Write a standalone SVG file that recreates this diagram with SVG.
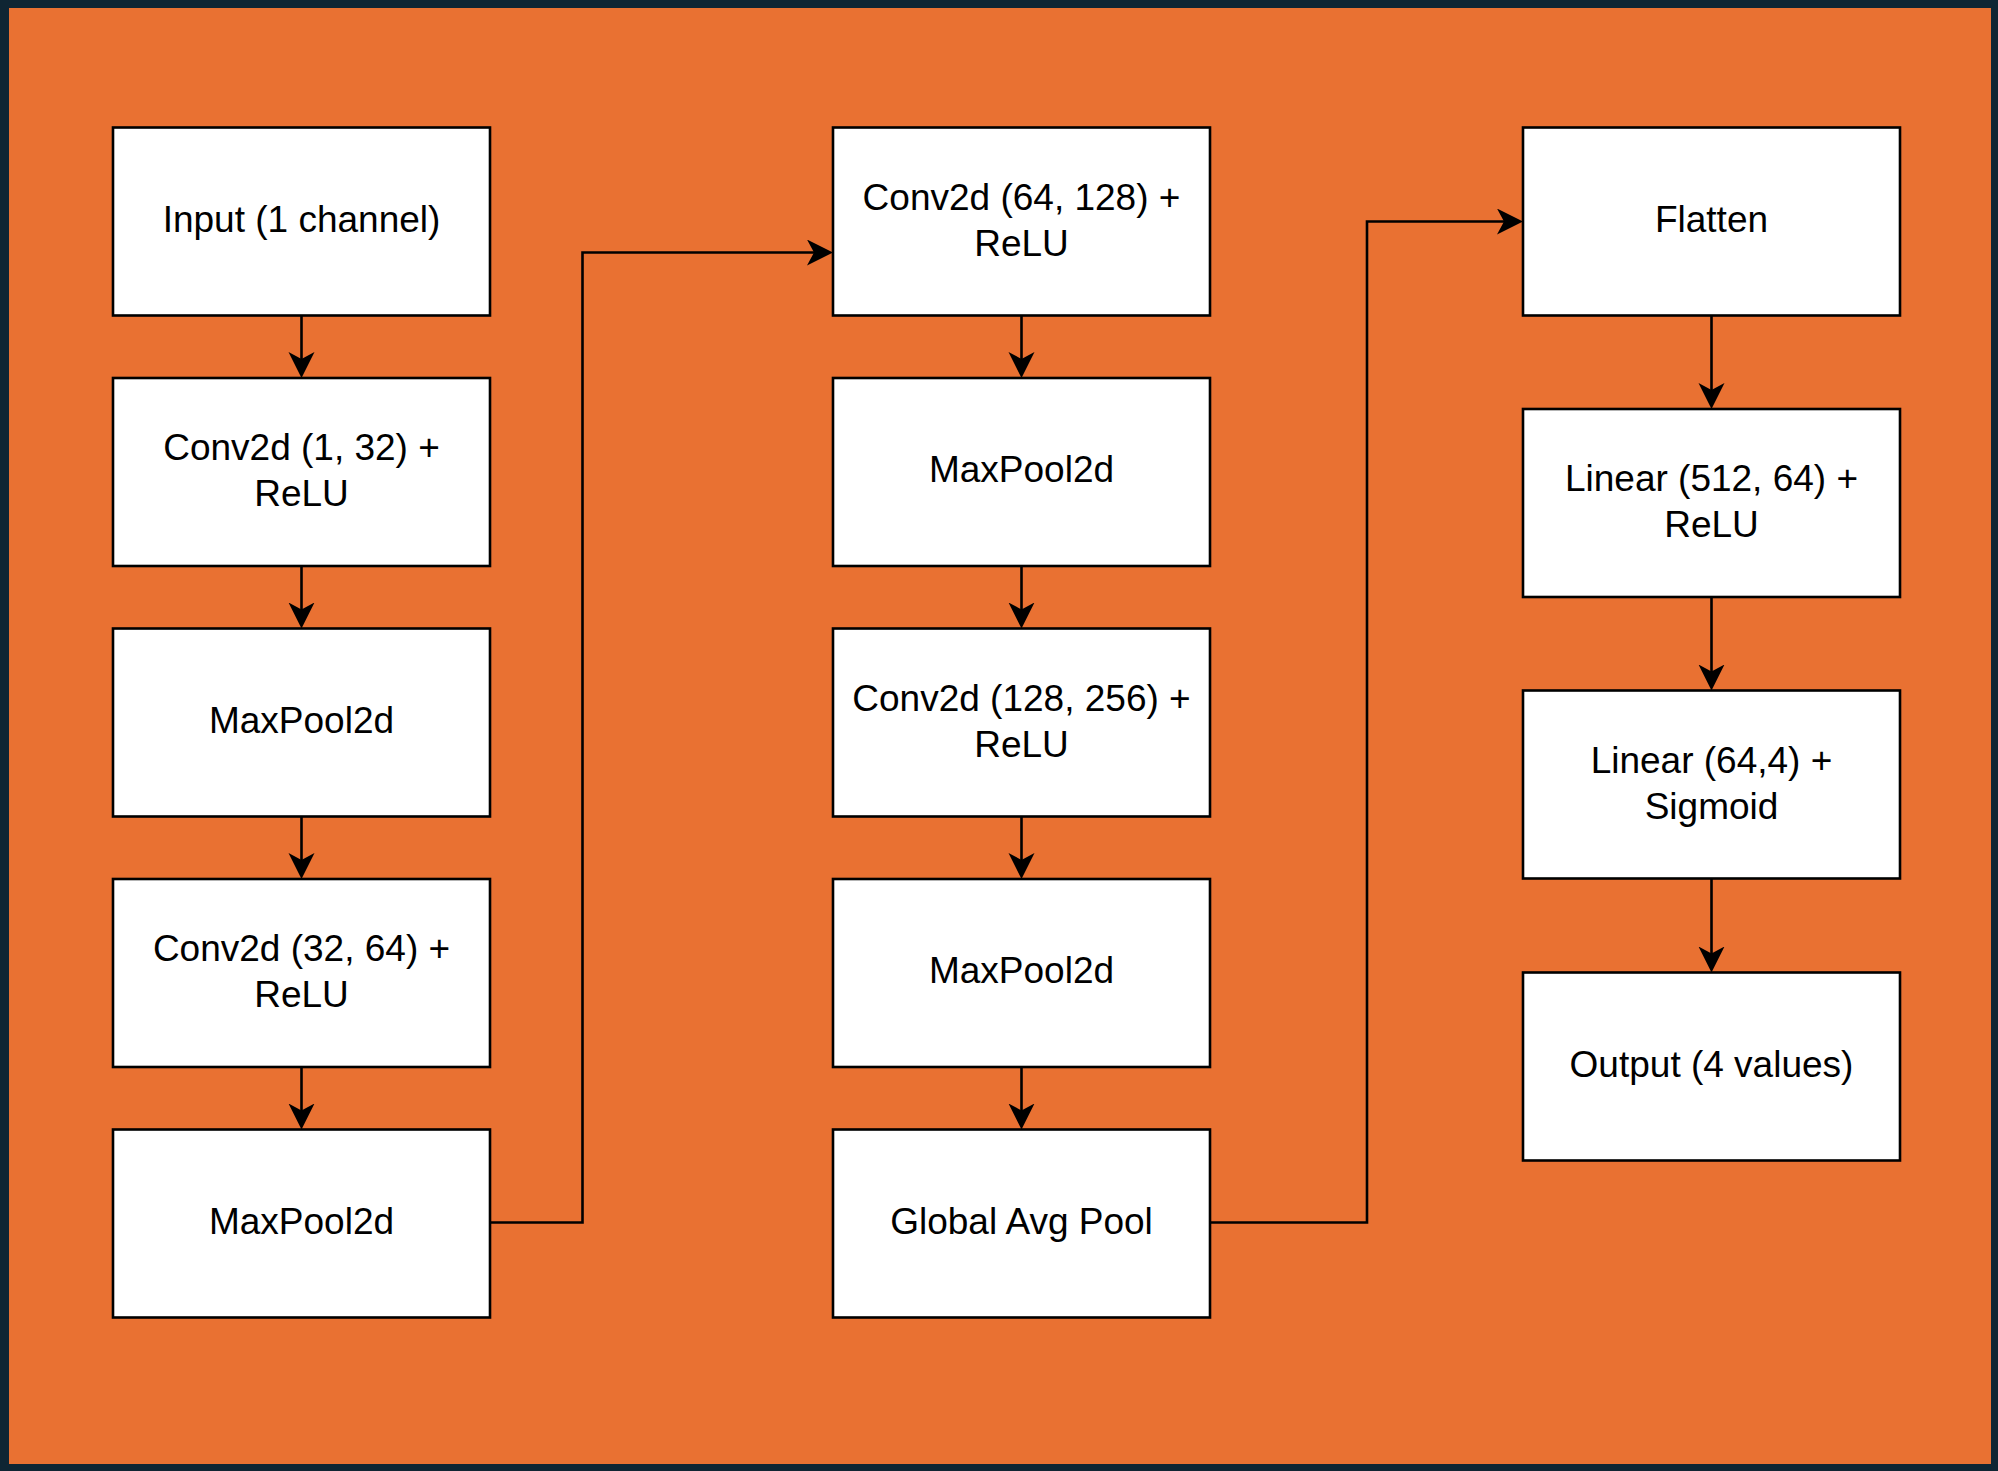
<svg xmlns="http://www.w3.org/2000/svg" width="1998" height="1471" viewBox="0 0 1998 1471">
<style>
.box{fill:#ffffff;stroke:#000000;stroke-width:2.6}
.lbl{font-family:"Liberation Sans",Arial,Helvetica,sans-serif;font-size:37px;fill:#000000;text-anchor:middle}
.conn{fill:none;stroke:#000000;stroke-width:2.6}
</style>
<defs>
<marker id="arr" markerUnits="userSpaceOnUse" markerWidth="30" markerHeight="30" refX="16" refY="13" orient="auto">
<path d="M0,0 L26,13 L0,26 L7,13 Z" fill="#000000"/>
</marker>
</defs>
<rect x="0" y="0" width="1998" height="1471" fill="#0f2533"/>
<rect x="9" y="8" width="1982" height="1456" fill="#E97132"/>

<g id="connectors">
<path class="conn" marker-end="url(#arr)" d="M301.5,315.5 V368"/>
<path class="conn" marker-end="url(#arr)" d="M301.5,566 V618.5"/>
<path class="conn" marker-end="url(#arr)" d="M301.5,816.5 V869"/>
<path class="conn" marker-end="url(#arr)" d="M301.5,1067 V1119.5"/>
<path class="conn" marker-end="url(#arr)" d="M489.5,1222.5 H582.5 V252.5 H823"/>
<path class="conn" marker-end="url(#arr)" d="M1021.5,315.5 V368"/>
<path class="conn" marker-end="url(#arr)" d="M1021.5,566 V618.5"/>
<path class="conn" marker-end="url(#arr)" d="M1021.5,816.5 V869"/>
<path class="conn" marker-end="url(#arr)" d="M1021.5,1067 V1119.5"/>
<path class="conn" marker-end="url(#arr)" d="M1209.5,1222.5 H1367 V221.5 H1513"/>
<path class="conn" marker-end="url(#arr)" d="M1711.5,315.5 V399"/>
<path class="conn" marker-end="url(#arr)" d="M1711.5,597 V680.5"/>
<path class="conn" marker-end="url(#arr)" d="M1711.5,878.5 V962.5"/>
</g>

<g id="input">
<rect class="box" x="113" y="127.5" width="377" height="188"/>
<text class="lbl" x="301.5" y="231.5">Input (1 channel)</text>
</g>
<g id="conv1">
<rect class="box" x="113" y="378" width="377" height="188"/>
<text class="lbl" x="301.5" y="460">Conv2d (1, 32) +</text>
<text class="lbl" x="301.5" y="506">ReLU</text>
</g>
<g id="pool1">
<rect class="box" x="113" y="628.5" width="377" height="188"/>
<text class="lbl" x="301.5" y="732.5">MaxPool2d</text>
</g>
<g id="conv2">
<rect class="box" x="113" y="879" width="377" height="188"/>
<text class="lbl" x="301.5" y="961">Conv2d (32, 64) +</text>
<text class="lbl" x="301.5" y="1007">ReLU</text>
</g>
<g id="pool2">
<rect class="box" x="113" y="1129.5" width="377" height="188"/>
<text class="lbl" x="301.5" y="1233.5">MaxPool2d</text>
</g>

<g id="conv3">
<rect class="box" x="833" y="127.5" width="377" height="188"/>
<text class="lbl" x="1021.5" y="209.5">Conv2d (64, 128) +</text>
<text class="lbl" x="1021.5" y="255.5">ReLU</text>
</g>
<g id="pool3">
<rect class="box" x="833" y="378" width="377" height="188"/>
<text class="lbl" x="1021.5" y="482">MaxPool2d</text>
</g>
<g id="conv4">
<rect class="box" x="833" y="628.5" width="377" height="188"/>
<text class="lbl" x="1021.5" y="710.5">Conv2d (128, 256) +</text>
<text class="lbl" x="1021.5" y="756.5">ReLU</text>
</g>
<g id="pool4">
<rect class="box" x="833" y="879" width="377" height="188"/>
<text class="lbl" x="1021.5" y="983">MaxPool2d</text>
</g>
<g id="gap">
<rect class="box" x="833" y="1129.5" width="377" height="188"/>
<text class="lbl" x="1021.5" y="1233.5">Global Avg Pool</text>
</g>

<g id="flatten">
<rect class="box" x="1523" y="127.5" width="377" height="188"/>
<text class="lbl" x="1711.5" y="231.5">Flatten</text>
</g>
<g id="linear1">
<rect class="box" x="1523" y="409" width="377" height="188"/>
<text class="lbl" x="1711.5" y="491">Linear (512, 64) +</text>
<text class="lbl" x="1711.5" y="537">ReLU</text>
</g>
<g id="linear2">
<rect class="box" x="1523" y="690.5" width="377" height="188"/>
<text class="lbl" x="1711.5" y="772.5">Linear (64,4) +</text>
<text class="lbl" x="1711.5" y="818.5">Sigmoid</text>
</g>
<g id="output">
<rect class="box" x="1523" y="972.5" width="377" height="188"/>
<text class="lbl" x="1711.5" y="1076.5">Output (4 values)</text>
</g>
</svg>
